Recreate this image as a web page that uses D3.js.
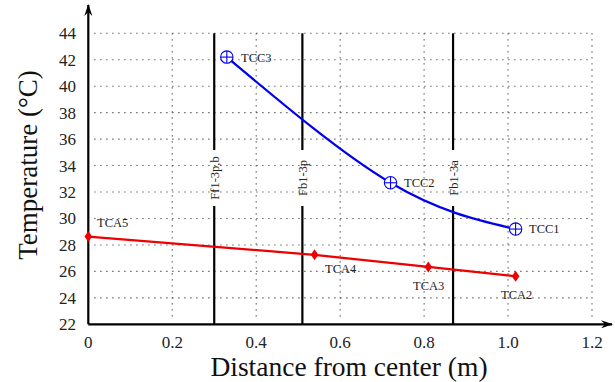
<!DOCTYPE html>
<html>
<head>
<meta charset="utf-8">
<script src="https://cdn.jsdelivr.net/npm/d3@7"></script>
<style>
  body { margin: 0; background: #fff; }
  svg text { font-family: "Liberation Serif", "DejaVu Serif", serif; }
</style>
</head>
<body>
<figure id="chart" style="margin:0"></figure>
<script>
// values
const xTicks = [0, 0.2, 0.4, 0.6, 0.8, 1.0, 1.2];
const xTickLabels = ["0", "0.2", "0.4", "0.6", "0.8", "1.0", "1.2"];
const yTicks = [22, 24, 26, 28, 30, 32, 34, 36, 38, 40, 42, 44];

const tccNames = ["TCC3", "TCC2", "TCC1"];
const tccX = [0.33, 0.72, 1.018];
const tccY = [42.2, 32.7, 29.2];

const tcaNames = ["TCA5", "TCA4", "TCA3", "TCA2"];
const tcaX = [0, 0.539, 0.81, 1.018];
const tcaY = [28.63, 27.25, 26.34, 25.63];

const markerNames = ["Ff1-3p,b", "Fb1-3p", "Fb1-3a"];
const markerX = [0.3, 0.51, 0.869];

const width = 615, height = 382;

const svg = d3.select("figure#chart")
  .append("svg")
  .attr("width", width)
  .attr("height", height);

const x = d3.scaleLinear().domain([0, 1.2]).range([88.3, 592]);
const y = d3.scaleLinear().domain([22, 44]).range([324.3, 33.3]);

// dotted grid
const grid = svg.append("g").attr("stroke", "#444").attr("stroke-width", 1.1)
  .attr("stroke-dasharray", "1.2,4.8");
grid.selectAll("line.h")
  .data(yTicks.filter(d => d > 22))
  .enter().append("line")
  .attr("x1", x(0) + 6).attr("x2", x(1.2))
  .attr("y1", d => y(d)).attr("y2", d => y(d));
grid.selectAll("line.v")
  .data(xTicks.filter(d => d > 0))
  .enter().append("line")
  .attr("x1", d => x(d)).attr("x2", d => x(d))
  .attr("y1", y(44)).attr("y2", y(22) - 4);

// vertical marker lines, broken around their labels
const markers = markerNames.map((n, i) => ({ name: n, x: markerX[i] }));
const mg = svg.append("g");
mg.selectAll("line.top").data(markers).enter().append("line")
  .attr("x1", d => x(d.x)).attr("x2", d => x(d.x))
  .attr("y1", y(44)).attr("y2", 150)
  .attr("stroke", "#000").attr("stroke-width", 2.2);
mg.selectAll("line.bot").data(markers).enter().append("line")
  .attr("x1", d => x(d.x)).attr("x2", d => x(d.x))
  .attr("y1", 206).attr("y2", y(22))
  .attr("stroke", "#000").attr("stroke-width", 2.2);
mg.selectAll("text").data(markers).enter().append("text")
  .attr("transform", d => `translate(${x(d.x) + 4.5},178) rotate(-90)`)
  .attr("text-anchor", "middle")
  .attr("font-size", 12.5)
  .attr("fill", "#222")
  .text(d => d.name);

// axes with arrow heads
svg.append("defs").append("marker")
  .attr("id", "arrow")
  .attr("viewBox", "0 0 12 8")
  .attr("refX", 11).attr("refY", 4)
  .attr("markerWidth", 12).attr("markerHeight", 8)
  .attr("markerUnits", "userSpaceOnUse")
  .attr("orient", "auto")
  .append("path").attr("d", "M0,0 L12,4 L0,8 L4,4 Z").attr("fill", "#000");

svg.append("line")
  .attr("x1", x(0)).attr("y1", y(22)).attr("x2", x(0)).attr("y2", 5)
  .attr("stroke", "#000").attr("stroke-width", 2.2)
  .attr("marker-end", "url(#arrow)");
svg.append("line")
  .attr("x1", x(0)).attr("y1", y(22)).attr("x2", 612).attr("y2", y(22))
  .attr("stroke", "#000").attr("stroke-width", 2.2)
  .attr("marker-end", "url(#arrow)");

// tick labels
svg.append("g").selectAll("text")
  .data(yTicks).enter().append("text")
  .attr("x", 76).attr("y", d => y(d) + 6)
  .attr("text-anchor", "end")
  .attr("font-size", 17)
  .attr("fill", "#222")
  .text(d => d);
svg.append("g").selectAll("text")
  .data(xTicks).enter().append("text")
  .attr("x", d => x(d)).attr("y", 348)
  .attr("text-anchor", "middle")
  .attr("font-size", 17)
  .attr("fill", "#222")
  .text((d, i) => xTickLabels[i]);

// axis titles
svg.append("text")
  .attr("x", 349).attr("y", 376)
  .attr("text-anchor", "middle")
  .attr("font-size", 27.5)
  .attr("fill", "#111")
  .text("Distance from center (m)");
svg.append("text")
  .attr("transform", "translate(37,165) rotate(-90)")
  .attr("text-anchor", "middle")
  .attr("font-size", 27)
  .attr("fill", "#111")
  .text("Temperature (°C)");

// TCC series (smooth blue curve)
const tcc = tccNames.map((n, i) => ({ name: n, x: tccX[i], y: tccY[i] }));
svg.append("path")
  .datum(tcc)
  .attr("fill", "none")
  .attr("stroke", "#0000ee")
  .attr("stroke-width", 2.2)
  .attr("d", d3.line().x(d => x(d.x)).y(d => y(d.y)).curve(d3.curveNatural));
const tccG = svg.append("g").selectAll("g").data(tcc).enter().append("g")
  .attr("transform", d => `translate(${x(d.x)},${y(d.y)})`)
  .attr("stroke", "#0000ee").attr("stroke-width", 1.1);
tccG.append("circle").attr("r", 6.2).attr("fill", "#fff");
tccG.append("line").attr("x1", -6.2).attr("x2", 6.2);
tccG.append("line").attr("y1", -6.2).attr("y2", 6.2);

// TCA series (red polyline)
const tca = tcaNames.map((n, i) => ({ name: n, x: tcaX[i], y: tcaY[i] }));
svg.append("path")
  .datum(tca)
  .attr("fill", "none")
  .attr("stroke", "#ee0000")
  .attr("stroke-width", 2.2)
  .attr("d", d3.line().x(d => x(d.x)).y(d => y(d.y)));
svg.append("g").selectAll("path").data(tca).enter().append("path")
  .attr("transform", d => `translate(${x(d.x)},${y(d.y)})`)
  .attr("d", "M0,-5.5 L3.8,0 L0,5.5 L-3.8,0 Z")
  .attr("fill", "#ee0000");

// point labels
const tccLabelPos = [[241, 62], [404, 187], [529, 233]];
const tcaLabelPos = [[97, 227], [325, 273], [413, 290], [501, 299]];
svg.append("g").selectAll("text")
  .data(tcc).enter().append("text")
  .attr("x", (d, i) => tccLabelPos[i][0]).attr("y", (d, i) => tccLabelPos[i][1])
  .attr("font-size", 12.5).attr("fill", "#222")
  .text(d => d.name);
svg.append("g").selectAll("text")
  .data(tca).enter().append("text")
  .attr("x", (d, i) => tcaLabelPos[i][0]).attr("y", (d, i) => tcaLabelPos[i][1])
  .attr("font-size", 12.5).attr("fill", "#222")
  .text(d => d.name);
</script>
</body>
</html>
